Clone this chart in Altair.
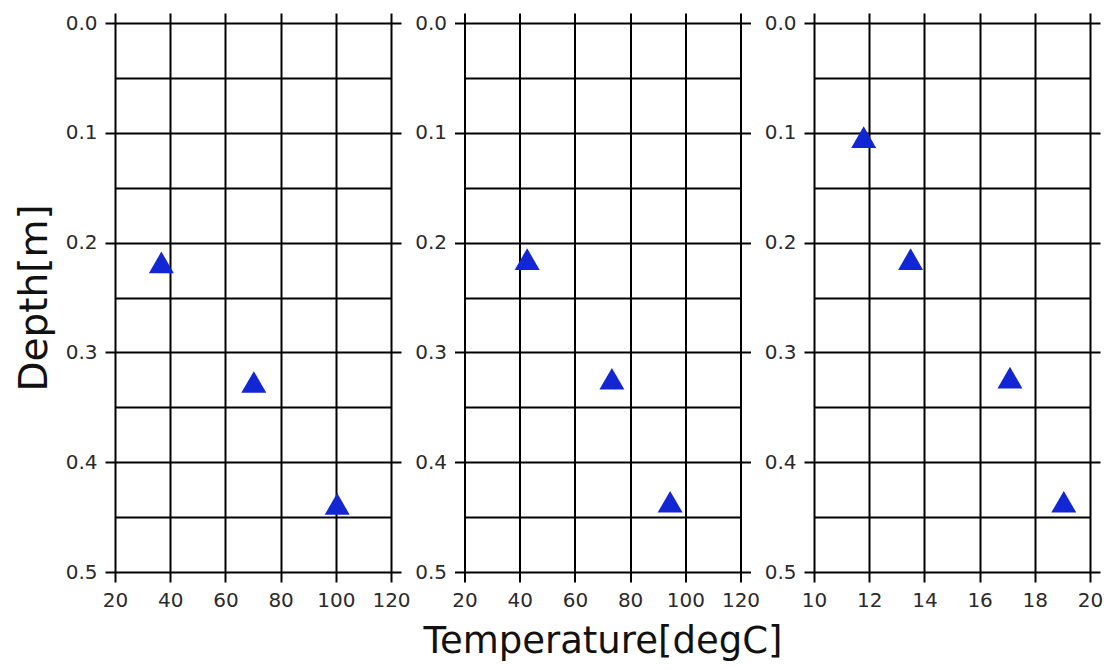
import altair as alt
import pandas as pd

# ---- data ----
temp_a = [36.8, 70.3, 100.5]
depth_a = [0.218, 0.327, 0.438]
temp_b = [42.7, 73.4, 94.5]
depth_b = [0.215, 0.324, 0.436]
temp_c = [11.8, 13.5, 17.1, 19.05]
depth_c = [0.104, 0.215, 0.323, 0.436]

x_ticks_ab = [20, 40, 60, 80, 100, 120]
x_ticks_c = [10, 12, 14, 16, 18, 20]
y_ticks = [0.0, 0.1, 0.2, 0.3, 0.4, 0.5]
y_grid = [0.0, 0.05, 0.1, 0.15, 0.2, 0.25, 0.3, 0.35, 0.4, 0.45, 0.5]

FONT = "DejaVu Sans"
BLUE = "#1226d4"
W, H = 276, 549
LFS = 20
TFS = 37


def panel(temps, depths, xticks, ytitle=None, xtitle=None):
    df = pd.DataFrame({"Temperature": temps, "Depth": depths})
    xs = alt.Scale(domain=[xticks[0], xticks[-1]], nice=False, zero=False)
    ys = alt.Scale(domain=[0, 0.5], reverse=True, nice=False, zero=False)

    main = alt.Chart(df).mark_point(
        shape="triangle-up", filled=True, size=625, color=BLUE, opacity=1
    ).encode(
        x=alt.X(
            "Temperature:Q",
            scale=xs,
            axis=alt.Axis(
                orient="bottom", values=xticks, grid=True, ticks=True,
                labels=True, labelFontSize=LFS, labelFont=FONT, labelPadding=8,
                labelFlush=False, minExtent=0,
                title=xtitle, titlePadding=13, titleFontSize=TFS, titleFont=FONT,
            ),
        ),
        y=alt.Y(
            "Depth:Q",
            scale=ys,
            axis=alt.Axis(
                orient="left", values=y_grid, grid=True, ticks=True,
                labelExpr="round(datum.value*20) % 2 === 0 ? format(datum.value, '.1f') : ''",
                tickOpacity={"condition": {"test": "round(datum.value*20) % 2 === 0", "value": 1}, "value": 0},
                labelOverlap=False, labelFontSize=LFS, labelFont=FONT, labelPadding=8,
                labelFlush=False, minExtent=0,
                title=ytitle, titlePadding=11, titleFontSize=39, titleFont=FONT,
            ),
        ),
    )

    mirror = alt.Chart(df).mark_point(opacity=0).encode(
        x=alt.X(
            "Temperature:Q",
            scale=xs,
            axis=alt.Axis(orient="top", values=xticks, grid=False, labels=False,
                          ticks=True, title=None, minExtent=0),
        ),
        y=alt.Y(
            "Depth:Q",
            scale=ys,
            axis=alt.Axis(orient="right", values=y_ticks, grid=False, labels=False,
                          ticks=True, title=None, minExtent=0),
        ),
    )

    return alt.layer(main, mirror).resolve_axis(x="independent", y="independent").properties(
        width=W, height=H
    )


p1 = panel(temp_a, depth_a, x_ticks_ab, ytitle="Depth[m]")
p2 = panel(temp_b, depth_b, x_ticks_ab, xtitle="Temperature[degC]")
p3 = panel(temp_c, depth_c, x_ticks_c)

chart = alt.hconcat(p1, p2, p3, spacing=73.5, bounds="flush").configure_view(
    stroke=None
).configure_axis(
    domain=False,
    tickSize=10,
    tickWidth=2,
    tickColor="black",
    gridColor="black",
    gridWidth=2,
    gridOpacity=1,
    labelColor="#2a2a2a",
    minExtent=0,
    titleFontWeight="normal",
    titleColor="#111111",
).properties(
    background="white",
    padding={"left": 7, "top": 4, "right": 0, "bottom": 3},
)

chart.save("out.html", embed_options={"renderer": "svg", "actions": False})
